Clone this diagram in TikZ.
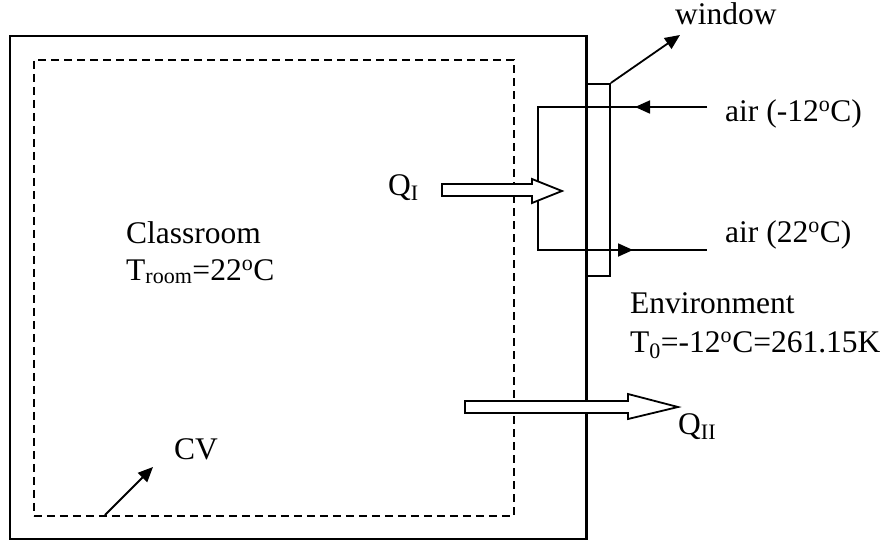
\documentclass[tikz,border=0pt]{standalone}
\usepackage{fontspec}
\setmainfont{Liberation Serif}
\usetikzlibrary{arrows.meta}
\begin{document}
\begin{tikzpicture}[x=1pt,y=-1pt,
  lbl/.style={anchor=base west,inner sep=0pt,font=\fontsize{31.5}{36}\selectfont},
  wall/.style={line width=2.2pt},
  thin/.style={line width=1.8pt},
  cvbox/.style={line width=1.8pt,dash pattern=on 8pt off 5pt},
  tri/.style={-{Triangle[length=15pt,width=13pt]}},
  hollow/.style={line width=1.8pt,fill=white,line join=miter}
]
\useasboundingbox (0,0) rectangle (888,543);
% outer wall
\node[wall,draw,inner sep=0pt,minimum width=576pt,minimum height=503pt,anchor=north west] (room) at (9,35) {};
% control volume
\node[cvbox,draw,inner sep=0pt,minimum width=480pt,minimum height=456pt,anchor=north west] (cv) at (33,59) {};
% window
\node[thin,draw,fill=white,inner sep=0pt,minimum width=23pt,minimum height=192pt,anchor=north west] (win) at (586,83) {};
\draw[wall] (room.north east) -- (room.south east);
% air path
\coordinate (airin) at (707,107);
\coordinate (c1) at (538,107);
\coordinate (c2) at (538,250);
\coordinate (airout) at (707,250);
\coordinate (tiptop) at (635,107);
\coordinate (tipbot) at (633,250);
\draw[thin] (airin) -- (c1) -- (c2) -- (airout);
\draw[thin,tri] (airin) -- (tiptop);
\draw[thin,tri] (c2) -- (tipbot);
% labels
\node[lbl] (window) at (675,25) {window};
\coordinate (winend) at (680,35);
\draw[thin,tri] (win.north east) -- (winend);
\node[lbl] (airtop) at (725,121) {air (-12\textsuperscript{o}C)};
\node[lbl] (airbot) at (725,242) {air (22\textsuperscript{o}C)};
\node[lbl] (classroom) at (126,243) {Classroom};
\node[lbl] (troom) at (126,280) {T\textsubscript{room}=22\textsuperscript{o}C};
\node[lbl] (env) at (630,313) {Environment};
\node[lbl] (tzero) at (630,352) {T\textsubscript{0}=-12\textsuperscript{o}C=261.15K};
\node[lbl] (cvlbl) at (174,459) {CV};
\coordinate (cvfoot) at (105,515);
\coordinate (cvtip) at (153,467);
\draw[thin,tri] (cvfoot) -- (cvtip);
% Q_I hollow arrow
\node[lbl] (qi) at (388,195) {Q\textsubscript{I}};
\draw[hollow] (442,184) -- (532,184) -- (532,179) -- (562,191) -- (532,203) -- (532,196) -- (442,196) -- cycle;
% Q_II hollow arrow
\node[lbl] (qii) at (678,434) {Q\textsubscript{II}};
\draw[hollow] (465,401) -- (628,401) -- (628,394) -- (678,407) -- (628,419) -- (628,413) -- (465,413) -- cycle;
\end{tikzpicture}
\end{document}
